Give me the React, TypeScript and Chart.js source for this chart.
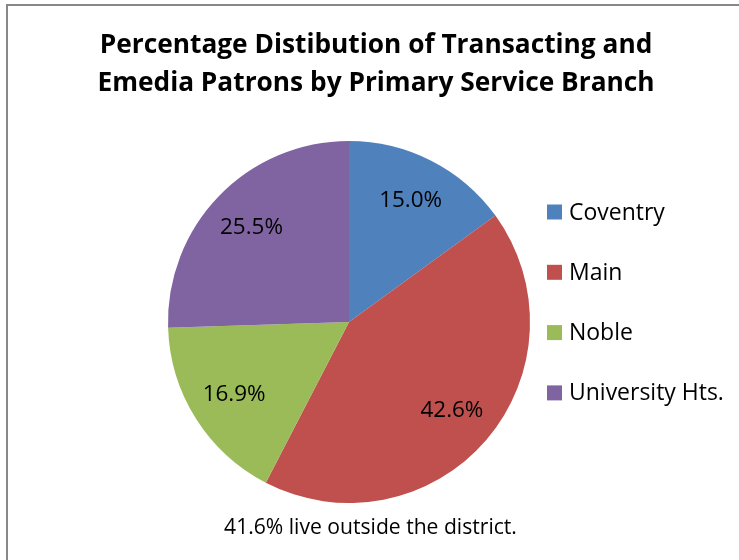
import React, { useEffect, useRef } from "react";
import { Chart, registerables } from "chart.js";

Chart.register(...registerables);

const titleLines = ["Percentage Distibution of Transacting and", "Emedia Patrons by Primary Service Branch"];
const branches = ["Coventry", "Main", "Noble", "University Hts."];
const percents = [15.0, 42.6, 16.9, 25.5];
const colors = ["#4F81BD", "#C0504D", "#9BBB59", "#8064A2"];
const footnote = "41.6% live outside the district.";

const FONT = "'Open Sans', Lato, sans-serif";

function fitSize(ctx: CanvasRenderingContext2D, text: string, weight: string, target: number) {
  ctx.font = `${weight} 20px ${FONT}`;
  const w = ctx.measureText(text).width;
  return (20 * target) / w;
}

const decorPlugin = {
  id: "decor",
  afterDraw(chart: any) {
    const ctx = chart.ctx as CanvasRenderingContext2D;
    ctx.save();
    ctx.fillStyle = "#000";
    ctx.textAlign = "center";
    ctx.textBaseline = "middle";
    // title
    const ts = fitSize(ctx, titleLines[0], "bold", 553);
    ctx.font = `bold ${ts}px ${FONT}`;
    ctx.fillText(titleLines[0], 376, 46);
    ctx.fillText(titleLines[1], 376, 84);

    // data labels
    const meta = chart.getDatasetMeta(0);
    const ls = fitSize(ctx, "15.0%", "normal", 63);
    ctx.font = `${ls}px ${FONT}`;
    meta.data.forEach((arc: any, i: number) => {
      const p = arc.getProps(["x", "y", "startAngle", "endAngle", "outerRadius"], true);
      const mid = (p.startAngle + p.endAngle) / 2;
      const r = p.outerRadius * 0.75;
      ctx.fillStyle = "#000";
      ctx.fillText(percents[i].toFixed(1) + "%", p.x + Math.cos(mid) * r, p.y + Math.sin(mid) * r);
    });

    // legend
    ctx.textAlign = "left";
    const gs = fitSize(ctx, "University Hts.", "normal", 155);
    ctx.font = `${gs}px ${FONT}`;
    branches.forEach((b, i) => {
      const cy = 212 + i * 60.3;
      ctx.fillStyle = colors[i];
      ctx.fillRect(547, cy - 7.5, 15, 15);
      ctx.fillStyle = "#000";
      ctx.fillText(b, 569, cy + 1);
    });

    // footnote
    ctx.textAlign = "center";
    const fs = fitSize(ctx, footnote, "normal", 293);
    ctx.font = `${fs}px ${FONT}`;
    ctx.fillText(footnote, 370.5, 528);
    ctx.restore();
  },
};

export default function App() {
  const ref = useRef<HTMLCanvasElement>(null);
  useEffect(() => {
    document.body.style.margin = "0";
    const chart = new Chart(ref.current!, {
      type: "pie",
      data: {
        labels: branches,
        datasets: [{ data: percents, backgroundColor: colors, borderWidth: 0 }],
      },
      options: {
        animation: false,
        responsive: false,
        layout: { padding: { left: 168, right: 209, top: 141, bottom: 57 } },
        plugins: { legend: { display: false }, title: { display: false }, tooltip: { enabled: false } },
      },
      plugins: [decorPlugin],
    });
    return () => chart.destroy();
  }, []);
  return (
    <div style={{ position: "relative", width: 739, height: 560, overflow: "hidden", background: "#fff" }}>
      <div style={{ position: "absolute", left: 6, top: 4, width: 800, height: 700, border: "2px solid #888", boxSizing: "border-box" }} />
      <canvas ref={ref} width={739} height={560} style={{ position: "absolute", left: 0, top: 0 }} />
    </div>
  );
}
